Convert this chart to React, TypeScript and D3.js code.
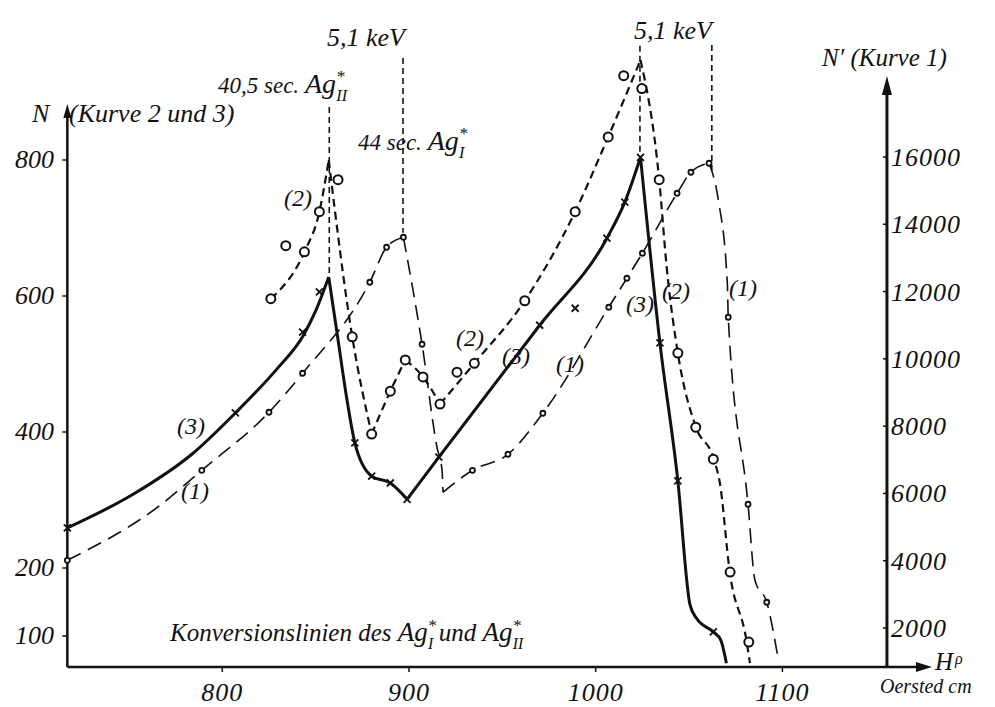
import { scaleLinear, line as d3line, curveMonotoneX } from "d3";

// H-rho values (Oersted cm) on the x axis
const xTicks = [800, 900, 1000, 1100];
const leftTicks = [100, 200, 400, 600, 800];
const rightTicks = [2000, 4000, 6000, 8000, 10000, 12000, 14000, 16000];

// Kurve 1 (N', right axis): traced curve, split at the sharp corners
const curve1Trace: [number, number][][] = [
  [[717, 4013], [766.7, 5648], [789, 6688], [825, 8413], [843, 9572], [879, 12277], [888, 13317], [897, 13614]],
  [[897, 13614], [907, 10434], [915, 7372], [917.7, 6688], [918.2, 6034]],
  [[918.2, 6034], [934, 6688], [953, 7164], [971.7, 8383], [1007, 11534], [1016.7, 12396], [1025, 13139], [1043.6, 14922], [1051, 15547], [1060.7, 15814]],
  [[1060.7, 15814], [1065.7, 14715], [1070.5, 12247], [1071, 11236], [1081.6, 5678], [1085.3, 3419], [1091.6, 2765], [1097.6, 1130]],
];
const curve1Points: [number, number][] = [
  [717, 4013], [789, 6688], [825, 8413], [843, 9572], [879, 12277], [888, 13317], [897, 13614], [907, 10434],
  [934, 6688], [953, 7164], [971.7, 8383], [1007, 11534], [1016.7, 12396], [1025, 13139], [1043.6, 14922],
  [1051, 15547], [1060.7, 15814], [1071, 11236], [1081.6, 5678], [1091.6, 2765],
];

// Kurve 2 (N, left axis)
const curve2Trace: [number, number][][] = [
  [[826, 596], [844, 665], [852, 724], [857, 800]],
  [[857, 800], [869.6, 540], [880, 397]],
  [[880, 397], [890, 460], [898, 506]],
  [[898, 506], [907.5, 481], [916.6, 441]],
  [[916.6, 441], [935, 501], [962, 593], [989, 724], [1006.7, 834], [1024, 947]],
  [[1024, 947], [1034, 771], [1038, 643], [1044, 516], [1053.7, 407], [1063.3, 360], [1066.5, 325], [1071.8, 194], [1080.9, 91], [1082.6, 60]],
];
const curve2Points: [number, number][] = [
  [826, 596], [834, 674], [844, 665], [852, 724], [862, 771], [869.6, 540], [880, 397], [890, 460], [898, 506],
  [907.5, 481], [916.6, 441], [925.7, 488], [935, 501], [962, 593], [989, 724], [1006.7, 834], [1015, 924],
  [1024.7, 905], [1034, 771], [1044, 516], [1053.6, 407], [1063, 360], [1072, 194], [1082, 91],
];

// Kurve 3 (N, left axis)
const curve3Trace: [number, number][][] = [
  [[717, 259], [752, 308], [784, 368], [807, 428], [830, 495], [843, 540], [850, 578], [857, 628]],
  [[857, 628], [861.6, 543], [866.8, 447], [871, 384], [880, 335], [890, 325], [899, 301]],
  [[899, 301], [916, 363], [970, 557], [1006, 685], [1015.6, 738], [1024, 804]],
  [[1024, 804], [1034.4, 531], [1044, 328], [1050.5, 146], [1054, 126], [1063, 106], [1067, 94], [1070, 60]],
];
const curve3Points: [number, number][] = [
  [717, 259], [807, 428], [843, 547], [852, 606], [871, 384], [880, 335], [890, 325], [899, 301], [916, 363],
  [970, 557], [989, 582], [1006, 685], [1015.6, 738], [1024, 804], [1034.4, 531], [1044, 328], [1063, 106],
];

// vertical reference lines of the conversion peaks (H, N from, N to)
const peakLines: [number, number, number][] = [
  [857.3, 878, 628],
  [896.8, 950, 693],
  [1023.7, 968, 804],
  [1062.2, 969, 782],
];

export default function App() {
  const x = scaleLinear().domain([800, 1100]).range([222.3, 782.4]);
  const yL = scaleLinear().domain([100, 800]).range([636, 160]);
  const yR = scaleLinear().domain([2000, 16000]).range([628, 157]);

  const axisLeft = x(717);
  const axisRight = x(1156);
  const axisBottom = yL(54.4);

  const pathOf = (segs: [number, number][][], y: (v: number) => number) => {
    const gen = d3line<[number, number]>()
      .x((d) => x(d[0]))
      .y((d) => y(d[1]))
      .curve(curveMonotoneX);
    return segs.map((s) => gen(s) ?? "").join("");
  };

  const font = "'Liberation Serif', 'DejaVu Serif', serif";
  const ink = "#111";

  // "Ag" with a star above and a roman-numeral index below; tail text goes back to the baseline
  const ag = (sub: string, size: number, tail = "") => (
    <>
      <tspan fontSize={size}>Ag</tspan>
      <tspan fontSize={size * 0.62} dy={-size * 0.38}>*</tspan>
      <tspan fontSize={size * 0.58} dx={-size * 0.3} dy={size * 0.66}>{sub}</tspan>
      {tail && <tspan dx={size * 0.2} dy={-size * 0.28}>{tail}</tspan>}
    </>
  );

  return (
    <div style={{ position: "absolute", left: 0, top: 0 }}>
      <svg width={995} height={707} style={{ display: "block", background: "#fff" }} fontFamily={font} fontStyle="italic" fill={ink}>
        {/* axes */}
        <line x1={axisLeft} y1={axisBottom} x2={axisLeft} y2={112} stroke={ink} strokeWidth={2.5} />
        <polygon points={`${axisLeft - 4},${118} ${axisLeft},${104} ${axisLeft + 4},${118}`} fill={ink} />
        <line x1={axisLeft} y1={axisBottom} x2={922} y2={axisBottom} stroke={ink} strokeWidth={2.5} />
        <polygon points={`${916},${axisBottom - 5} ${932},${axisBottom} ${916},${axisBottom + 5}`} fill={ink} />
        <line x1={axisRight} y1={axisBottom} x2={axisRight} y2={88} stroke={ink} strokeWidth={3} />
        <polygon points={`${axisRight - 5},${95} ${axisRight},${76} ${axisRight + 5},${95}`} fill={ink} />

        {xTicks.map((t) => (
          <g key={t}>
            <line x1={x(t)} x2={x(t)} y1={axisBottom} y2={axisBottom + 5} stroke={ink} strokeWidth={1.5} />
            <text x={x(t)} y={701} fontSize={26} textAnchor="middle" letterSpacing={1}>{t}</text>
          </g>
        ))}
        {leftTicks.map((t) => (
          <g key={t}>
            <line x1={axisLeft - 5} x2={axisLeft} y1={yL(t)} y2={yL(t)} stroke={ink} strokeWidth={1.5} />
            <text x={54} y={yL(t) + 8} fontSize={26} textAnchor="end">{t}</text>
          </g>
        ))}
        {rightTicks.map((t) => (
          <g key={t}>
            <line x1={axisRight - 4} x2={axisRight} y1={yR(t)} y2={yR(t)} stroke={ink} strokeWidth={1.5} />
            <text x={891} y={yR(t) + 9} fontSize={26} letterSpacing={1}>{t}</text>
          </g>
        ))}

        {/* axis titles */}
        <text x={32} y={122} fontSize={26}>N</text>
        <text x={69} y={122} fontSize={26}>(Kurve 2 und 3)</text>
        <text x={822} y={66} fontSize={25}>N′ (Kurve 1)</text>
        <text x={935} y={670} fontSize={25}>H<tspan fontSize={16} dy={-6} dx={2}>ρ</tspan></text>
        <text x={880} y={693} fontSize={20}>Oersted cm</text>

        {/* peak reference lines */}
        {peakLines.map(([h, a, b], i) => (
          <line key={i} x1={x(h)} x2={x(h)} y1={yL(a)} y2={yL(b)} stroke={ink} strokeWidth={1.6} strokeDasharray="6 4" />
        ))}
        <text x={405} y={46} fontSize={26} textAnchor="end">5,1 keV</text>
        <text x={712} y={39} fontSize={26} textAnchor="end">5,1 keV</text>
        <text x={218} y={93} fontSize={23}>40,5 sec. {ag("II", 28)}</text>
        <text x={358} y={150} fontSize={23}>44 sec. {ag("I", 28)}</text>

        {/* curves */}
        <path d={pathOf(curve1Trace, yR)} fill="none" stroke={ink} strokeWidth={1.6} strokeDasharray="15 8" />
        <path d={pathOf(curve2Trace, yL)} fill="none" stroke={ink} strokeWidth={2.2} strokeDasharray="8 5" />
        <path d={pathOf(curve3Trace, yL)} fill="none" stroke={ink} strokeWidth={3} />

        {curve1Points.map(([h, v], i) => (
          <circle key={i} cx={x(h)} cy={yR(v)} r={2.5} fill="#fff" stroke={ink} strokeWidth={1.8} />
        ))}
        {curve2Points.map(([h, v], i) => (
          <circle key={i} cx={x(h)} cy={yL(v)} r={4.5} fill="#fff" stroke={ink} strokeWidth={2} />
        ))}
        {curve3Points.map(([h, v], i) => (
          <path key={i} transform={`translate(${x(h)},${yL(v)})`} d="M-3.5,-3.5L3.5,3.5M-3.5,3.5L3.5,-3.5" stroke={ink} strokeWidth={1.8} />
        ))}

        {/* curve labels */}
        <text x={284} y={206} fontSize={24}>(2)</text>
        <text x={177} y={434} fontSize={24}>(3)</text>
        <text x={181} y={499} fontSize={24}>(1)</text>
        <text x={456} y={346} fontSize={24}>(2)</text>
        <text x={502} y={364} fontSize={24}>(3)</text>
        <text x={556} y={372} fontSize={24}>(1)</text>
        <text x={626} y={312} fontSize={24}>(3)</text>
        <text x={662} y={299} fontSize={24}>(2)</text>
        <text x={729} y={296} fontSize={24}>(1)</text>

        <text x={170} y={641} fontSize={25}>
          Konversionslinien des {ag("I", 27, "und\u00a0")}{ag("II", 27)}
        </text>
      </svg>
    </div>
  );
}
